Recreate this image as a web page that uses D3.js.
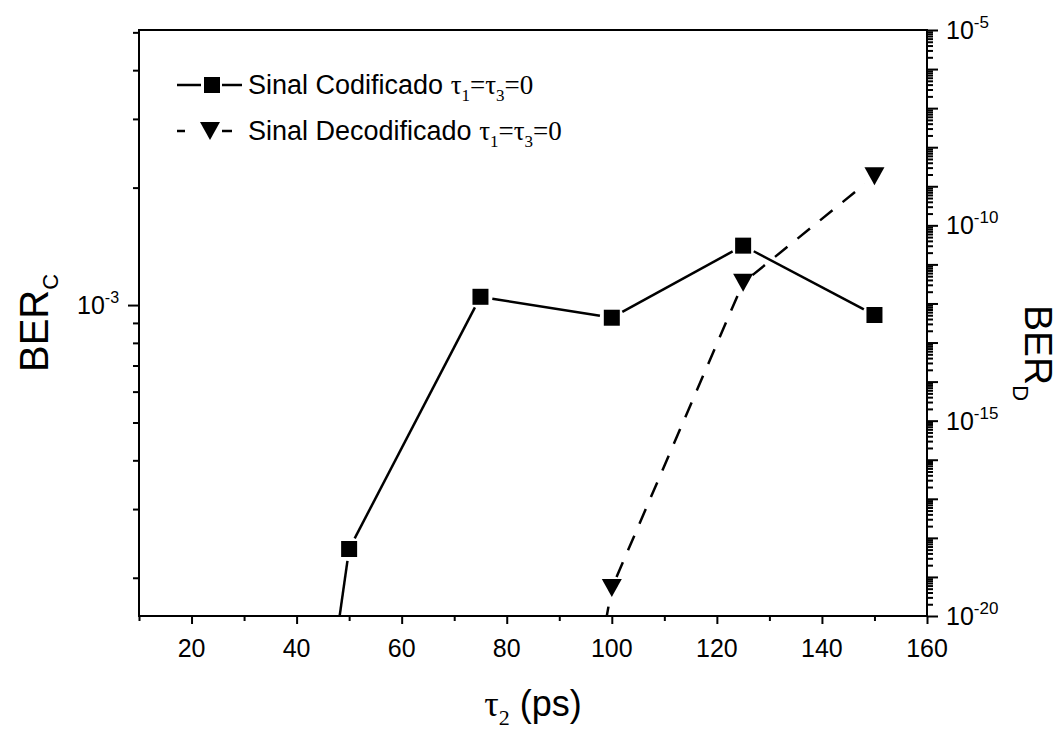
<!DOCTYPE html>
<html>
<head>
<meta charset="utf-8">
<script src="https://cdn.jsdelivr.net/npm/d3@7"></script>
<style>
  body { margin: 0; background: #fff; }
  text { font-family: "Liberation Sans", Arial, sans-serif; fill: #000; }
  .serif { font-family: "Liberation Serif", "Times New Roman", serif; }
  .axis line { stroke: #000; stroke-width: 2; }
  .axis .domain { display: none; }
</style>
</head>
<body>
<div id="container"></div>
<script>
const w = 1062;
const h = 733;
const pLeft = 139, pRight = 927, pTop = 30, pBottom = 616;

// data
const tau2Cod = [25, 50, 75, 100, 125, 150];
const berCod = [1e-6, 2.37e-4, 1.05e-3, 9.28e-4, 1.42e-3, 9.43e-4];
const tau2Dec = [75, 100, 125, 150];
const berDec = [1e-38, 5.2e-20, 3.4e-12, 1.8e-9];

// ticks
const xMajor = [20, 40, 60, 80, 100, 120, 140, 160];
const xMinor = [10, 30, 50, 70, 90, 110, 130, 150];
const leftMajor = [1e-3];
const leftLabels = [-3];
const rightLabels = [-5, -10, -15, -20];

const svg = d3.select("#container").append("svg")
  .attr("width", w).attr("height", h);

const x = d3.scaleLinear().domain([10, 160]).range([pLeft, pRight]);
const yC = d3.scaleLog().domain([1.596e-4, 5.07e-3]).range([pBottom, pTop]);
const yD = d3.scaleLog().domain([1e-20, 1e-5]).range([pBottom, pTop]);

// minor log ticks (2..9 in every decade)
function logMinors(lo, hi, dom) {
  const out = [];
  for (let e = lo; e <= hi; e++) {
    for (let m = 2; m <= 9; m++) {
      const v = m * Math.pow(10, e);
      if (v >= dom[0] && v <= dom[1]) out.push(v);
    }
  }
  return out;
}
const leftMinor = logMinors(-4, -3, yC.domain());
const rightMajor = d3.range(-20, -4).map(e => Math.pow(10, e));
const rightMinor = logMinors(-20, -6, yD.domain());

// x axis
svg.append("g").attr("class", "axis")
  .attr("transform", "translate(0," + pBottom + ")")
  .call(d3.axisBottom(x).tickValues(xMajor).tickSize(8).tickSizeOuter(0).tickFormat(""));
svg.append("g").attr("class", "axis")
  .attr("transform", "translate(0," + pBottom + ")")
  .call(d3.axisBottom(x).tickValues(xMinor).tickSize(5).tickSizeOuter(0).tickFormat(""));
svg.selectAll(".xlab").data(xMajor).enter().append("text")
  .attr("x", d => x(d)).attr("y", 657)
  .attr("text-anchor", "middle").attr("font-size", 25)
  .text(d => d);

// left axis
svg.append("g").attr("class", "axis")
  .attr("transform", "translate(" + pLeft + ",0)")
  .call(d3.axisLeft(yC).tickValues(leftMajor).tickSize(11).tickSizeOuter(0).tickFormat(""));
svg.append("g").attr("class", "axis")
  .attr("transform", "translate(" + pLeft + ",0)")
  .call(d3.axisLeft(yC).tickValues(leftMinor).tickSize(6).tickSizeOuter(0).tickFormat(""));
const ll = svg.selectAll(".ylab").data(leftLabels).enter().append("text")
  .attr("x", 77).attr("y", d => yC(Math.pow(10, d)) + 9)
  .attr("font-size", 25);
ll.append("tspan").text("10");
ll.append("tspan").attr("font-size", 16).attr("dy", -11).text(d => d);

// right axis
svg.append("g").attr("class", "axis")
  .attr("transform", "translate(" + pRight + ",0)")
  .call(d3.axisRight(yD).tickValues(rightMajor).tickSize(11).tickSizeOuter(0).tickFormat(""));
svg.append("g").attr("class", "axis")
  .attr("transform", "translate(" + pRight + ",0)")
  .call(d3.axisRight(yD).tickValues(rightMinor).tickSize(6).tickSizeOuter(0).tickFormat(""));
const rl = svg.selectAll(".rlab").data(rightLabels).enter().append("text")
  .attr("x", 946).attr("y", d => yD(Math.pow(10, d)) + 9)
  .attr("font-size", 25);
rl.append("tspan").text("10");
rl.append("tspan").attr("font-size", 17).attr("dy", -11).text(d => d);

// frame
svg.append("rect")
  .attr("x", pLeft).attr("y", pTop)
  .attr("width", pRight - pLeft).attr("height", pBottom - pTop)
  .attr("fill", "none").attr("stroke", "#000").attr("stroke-width", 2);

// clip
svg.append("clipPath").attr("id", "clip").append("rect")
  .attr("x", pLeft).attr("y", pTop)
  .attr("width", pRight - pLeft).attr("height", pBottom - pTop);
const plot = svg.append("g").attr("clip-path", "url(#clip)");

// lines stop short of the markers, like Origin does
function series(xs, ys, yScale, dash, gap) {
  const pts = xs.map((d, i) => [x(d), yScale(ys[i])]);
  const segs = d3.pairs(pts).map(([a, b]) => {
    const dx = b[0] - a[0], dy = b[1] - a[1], L = Math.hypot(dx, dy);
    const ux = dx / L, uy = dy / L;
    return [a[0] + ux * gap, a[1] + uy * gap, b[0] - ux * gap, b[1] - uy * gap];
  });
  plot.append("g").selectAll("line").data(segs).enter().append("line")
    .attr("x1", d => d[0]).attr("y1", d => d[1])
    .attr("x2", d => d[2]).attr("y2", d => d[3])
    .attr("stroke", "#000").attr("stroke-width", 2.5)
    .attr("stroke-dasharray", dash);
  return pts;
}

const triPath = "M-10,-9L10,-9L0,9Z";

const ptsC = series(tau2Cod, berCod, yC, null, 12);
plot.append("g").selectAll("rect").data(ptsC).enter().append("rect")
  .attr("x", d => d[0] - 8).attr("y", d => d[1] - 8)
  .attr("width", 16).attr("height", 16).attr("fill", "#000");

const ptsD = series(tau2Dec, berDec, yD, "16,13", 12);
plot.append("g").selectAll("path").data(ptsD).enter().append("path")
  .attr("d", triPath)
  .attr("transform", d => "translate(" + d[0] + "," + d[1] + ")")
  .attr("fill", "#000");

// legend
const legX = 177, legY = 85, legDy = 46;
const leg = svg.append("g");
// row 1
leg.append("line").attr("x1", legX).attr("x2", legX + 24).attr("y1", legY).attr("y2", legY)
  .attr("stroke", "#000").attr("stroke-width", 2.5);
leg.append("line").attr("x1", legX + 45).attr("x2", legX + 65).attr("y1", legY).attr("y2", legY)
  .attr("stroke", "#000").attr("stroke-width", 2.5);
leg.append("rect").attr("x", legX + 27).attr("y", legY - 8).attr("width", 16).attr("height", 16)
  .attr("fill", "#000");
// row 2
leg.append("line").attr("x1", legX).attr("x2", legX + 8).attr("y1", legY + legDy).attr("y2", legY + legDy)
  .attr("stroke", "#000").attr("stroke-width", 2.5);
leg.append("line").attr("x1", legX + 45).attr("x2", legX + 55).attr("y1", legY + legDy).attr("y2", legY + legDy)
  .attr("stroke", "#000").attr("stroke-width", 2.5);
leg.append("path").attr("d", triPath)
  .attr("transform", "translate(" + (legX + 33) + "," + (legY + legDy) + ")")
  .attr("fill", "#000");

const legNames = ["Sinal Codificado ", "Sinal Decodificado "];
legNames.forEach((name, i) => {
  const t = leg.append("text")
    .attr("x", legX + 71).attr("y", legY + 9 + i * legDy)
    .attr("font-size", 27);
  t.append("tspan").text(name);
  t.append("tspan").attr("class", "serif").text("τ");
  t.append("tspan").attr("class", "serif").attr("font-size", 17).attr("dy", 7).text("1");
  t.append("tspan").attr("class", "serif").attr("dy", -7).text("=τ");
  t.append("tspan").attr("class", "serif").attr("font-size", 17).attr("dy", 7).text("3");
  t.append("tspan").attr("class", "serif").attr("dy", -7).text("=0");
});

// axis titles
const xt = svg.append("text")
  .attr("x", (pLeft + pRight) / 2).attr("y", 716)
  .attr("text-anchor", "middle").attr("font-size", 36);
xt.append("tspan").attr("class", "serif").text("τ");
xt.append("tspan").attr("class", "serif").attr("font-size", 22).attr("dy", 9).text("2");
xt.append("tspan").attr("dy", -9).text(" (ps)");

const lt = svg.append("text")
  .attr("transform", "translate(48,372) rotate(-90)")
  .attr("font-size", 40);
lt.append("tspan").text("BER");
lt.append("tspan").attr("font-size", 22).attr("dy", 10).text("C");

const rt = svg.append("text")
  .attr("transform", "translate(1025,305) rotate(90)")
  .attr("font-size", 39);
rt.append("tspan").text("BER");
rt.append("tspan").attr("font-size", 22).attr("dy", 12).text("D");
</script>
</body>
</html>
